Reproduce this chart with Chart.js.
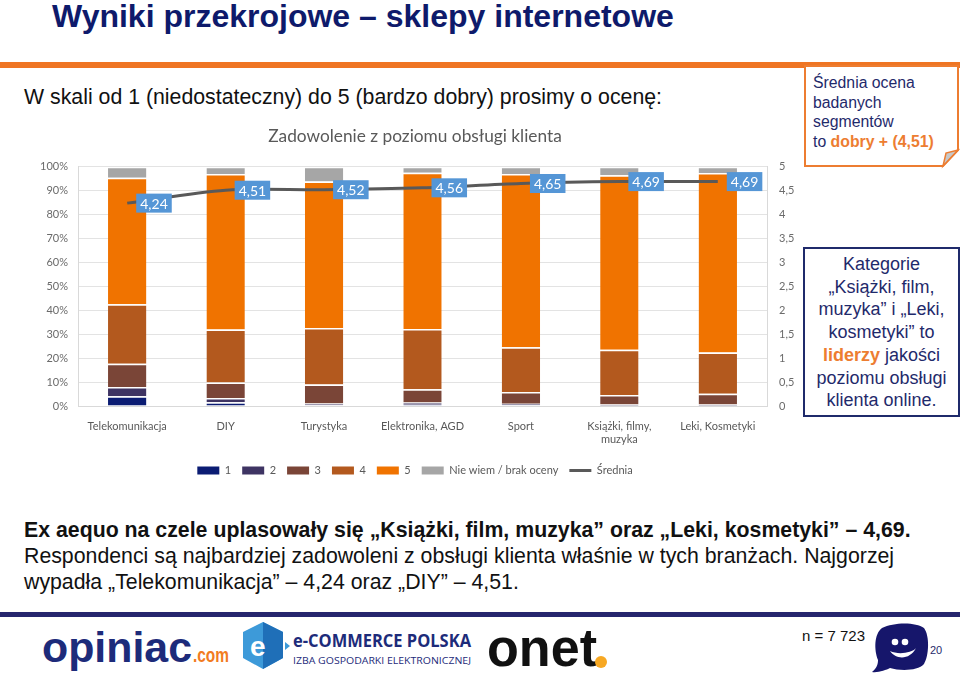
<!DOCTYPE html>
<html lang="pl">
<head>
<meta charset="utf-8">
<title>Wyniki przekrojowe – sklepy internetowe</title>
<script src="https://cdn.jsdelivr.net/npm/chart.js@4.4.1/dist/chart.umd.min.js"></script>
<style>
  html, body { margin: 0; padding: 0; }
  body {
    width: 960px; height: 673px; position: relative; overflow: hidden;
    background: #fff; font-family: "Liberation Sans", Arial, sans-serif;
  }
  .abs { position: absolute; }
  #title {
    left: 52px; top: -2px; font-size: 32px; font-weight: bold; color: #0e1a6b;
    line-height: 36px; white-space: nowrap;
  }
  #topRule { left: 0; top: 62px; width: 960px; height: 6px; background: #ef7523; }
  #subtitle { left: 24px; top: 85px; font-size: 21.3px; line-height: 24px; color: #111; white-space: nowrap; }
  #chartBox { left: 10px; top: 120px; width: 810px; height: 370px; }
  #note1 { left: 813px; top: 73px; font-size: 15.8px; line-height: 19.5px; color: #1f2a6b; white-space: nowrap; }
  #note1 b, #note2 b { color: #ed7d31; }
  #note2 {
    left: 803px; top: 247px; width: 157px; height: 170px; border: 2px solid #1f2a6b;
    font-size: 18px; line-height: 22.7px; color: #1f2a6b; text-align: center;
    box-sizing: border-box; padding-top: 4px; white-space: nowrap;
  }
  #summary { left: 24px; top: 517px; font-size: 21.3px; line-height: 26px; color: #111; white-space: nowrap; }
  #bottomRule { left: 0; top: 612px; width: 960px; height: 5px; background: #26266e; }
  #sample { left: 802px; top: 627px; font-size: 15px; color: #111; }
  #page { left: 930px; top: 644px; font-size: 11px; color: #1f2a6b; }
</style>
</head>
<body>
<div id="title" class="abs">Wyniki przekrojowe – sklepy internetowe</div>
<div id="topRule" class="abs"></div>
<div id="subtitle" class="abs">W skali od 1 (niedostateczny) do 5 (bardzo dobry) prosimy o ocenę:</div>

<svg class="abs" style="left:803px;top:64px" width="157" height="106">
  <path d="M2,2 H155 V86 L140,102 H2 Z" fill="#fff" stroke="#ed7d31" stroke-width="2"/>
  <path d="M140,102 L155,86 L143,89 Z" fill="#c8c8c8" stroke="#ed7d31" stroke-width="1.5"/>
</svg>
<div id="note1" class="abs">Średnia ocena<br>badanych<br>segmentów<br>to <b>dobry + (4,51)</b></div>

<div id="note2" class="abs">Kategorie<br>„Książki, film,<br>muzyka” i „Leki,<br>kosmetyki” to<br><b>liderzy</b> jakości<br>poziomu obsługi<br>klienta online.</div>

<div id="chartBox" class="abs"><canvas id="chart"></canvas></div>

<div id="summary" class="abs"><b>Ex aequo na czele uplasowały się „Książki, film, muzyka” oraz „Leki, kosmetyki” – 4,69.</b><br>Respondenci są najbardziej zadowoleni z obsługi klienta właśnie w tych branżach. Najgorzej<br>wypadła „Telekomunikacja” – 4,24 oraz „DIY” – 4,51.</div>

<div id="bottomRule" class="abs"></div>

<!-- logos -->
<svg class="abs" style="left:36px;top:620px" width="580" height="53">
  <text x="6" y="42" font-family="Liberation Sans, Arial" font-weight="bold" font-size="42" fill="#1d2b7a" textLength="150" lengthAdjust="spacingAndGlyphs">opiniac</text>
  <text x="157" y="42" font-family="Liberation Sans, Arial" font-weight="bold" font-size="21" fill="#f27b21" textLength="36" lengthAdjust="spacingAndGlyphs">.com</text>
  <polygon points="207,12 227,2 247,12 247,38 227,49 207,38" fill="#3d9ad9"/>
  <polygon points="227,2 247,12 247,38 227,49" fill="#1f6fb8"/>
  <text x="214" y="36" font-family="Liberation Sans, Arial" font-weight="bold" font-size="28" fill="#fff">e</text>
  <polygon points="249,22 254,26 249,30" fill="#3d9ad9"/>
  <text x="257" y="27" font-family="Open Sans, sans-serif" font-weight="bold" font-size="17" fill="#1d2b7a" textLength="178" lengthAdjust="spacingAndGlyphs">e-COMMERCE POLSKA</text>
  <text x="257" y="44" font-family="Open Sans, sans-serif" font-size="9.6" fill="#1d2b7a" textLength="178" lengthAdjust="spacingAndGlyphs">IZBA GOSPODARKI ELEKTRONICZNEJ</text>
  <text x="451" y="46" font-family="Liberation Sans, Arial" font-weight="bold" font-size="54" fill="#111" textLength="110" lengthAdjust="spacingAndGlyphs">onet</text>
  <circle cx="565" cy="42" r="6" fill="#f7a823"/>
</svg>

<div id="sample" class="abs">n = 7 723</div>
<svg class="abs" style="left:868px;top:620px" width="64" height="53">
  <path d="M14,8 C26,2 48,2 56,8 C62,16 61,36 56,44 C50,51 32,51 22,48 C18,50 10,53 4,52 C9,48 10,44 10,40 C6,30 6,14 14,8 Z" fill="#16166b"/>
  <circle cx="27" cy="22" r="3.3" fill="#fff"/>
  <circle cx="37" cy="22" r="3.3" fill="#fff"/>
  <path d="M22,31 C28,40 42,40 48,28 C44,33 30,35 22,31 Z" fill="#fff"/>
</svg>
<div id="page" class="abs">20</div>

<script>
// categories & values
const categories = [
  "Telekomunikacja",
  "DIY",
  "Turystyka",
  "Elektronika, AGD",
  "Sport",
  ["Książki, filmy,", "muzyka"],
  "Leki, Kosmetyki",
];

const score1 = [4.1, 1.6, 0.3, 0.5, 0.3, 0.2, 0.2];
const score2 = [3.8, 1.7, 0.7, 1.0, 0.6, 0.4, 0.4];
const score3 = [9.8, 6.5, 8.0, 5.5, 5.0, 4.0, 4.5];
const score4 = [24.8, 22.2, 23.6, 25.2, 18.7, 18.9, 17.3];
const score5 = [52.9, 65.0, 61.2, 65.3, 72.4, 73.0, 75.0];
const noAnswer = [4.6, 3.0, 6.2, 2.5, 3.0, 3.5, 2.6];
const average = [4.24, 4.51, 4.52, 4.56, 4.65, 4.69, 4.69];

const seriesLabels = ["1", "2", "3", "4", "5", "Nie wiem / brak oceny", "Średnia"];
const seriesColors = ["#0b1c73", "#3e3463", "#7a4537", "#b3591e", "#f07300", "#a6a6a6", "#595959"];

const chartFont = "Lato, 'Open Sans', sans-serif";
Chart.defaults.font.family = chartFont;
Chart.defaults.color = "#6b6b6b";

function comma(v, digits) {
  return (digits === undefined ? String(v) : v.toFixed(digits)).replace(".", ",");
}

// value boxes next to each point of the average line
const lineLabels = {
  id: "lineLabels",
  afterDatasetsDraw(chart) {
    const idx = chart.data.datasets.findIndex((d) => d.type === "line");
    const meta = chart.getDatasetMeta(idx);
    const ctx = chart.ctx;
    ctx.save();
    ctx.font = "14px " + chartFont;
    ctx.textBaseline = "middle";
    meta.data.forEach((pt, i) => {
      const text = comma(average[i], 2);
      const w = ctx.measureText(text).width + 8;
      const h = 19;
      const x = pt.x + 9;
      ctx.fillStyle = "#5596d6";
      ctx.fillRect(x, pt.y - h / 2, w, h);
      ctx.fillStyle = "#fff";
      ctx.fillText(text, x + 4, pt.y + 1);
    });
    ctx.restore();
  },
};

const barSets = [score1, score2, score3, score4, score5, noAnswer].map((data, i) => ({
  type: "bar",
  label: seriesLabels[i],
  data: data,
  backgroundColor: seriesColors[i],
  borderColor: "#ffffff",
  borderWidth: { top: 1.5, right: 0, bottom: 0, left: 0 },
  borderSkipped: false,
  yAxisID: "y",
  order: 1,
}));

const ctx = document.getElementById("chart").getContext("2d");
new Chart(ctx, {
  data: {
    labels: categories,
    datasets: [
      ...barSets,
      {
        type: "line",
        label: seriesLabels[6],
        data: average,
        borderColor: seriesColors[6],
        backgroundColor: seriesColors[6],
        borderWidth: 3,
        pointRadius: 0,
        tension: 0.3,
        yAxisID: "y1",
        order: 0,
      },
    ],
  },
  options: {
    responsive: true,
    maintainAspectRatio: false,
    animation: false,
    layout: { padding: { top: 0, bottom: 4, left: 0, right: 0 } },
    datasets: {
      bar: { categoryPercentage: 0.78, barPercentage: 0.5 },
    },
    plugins: {
      title: {
        display: true,
        text: "Zadowolenie z poziomu obsługi klienta",
        color: "#595959",
        font: { size: 17.3, weight: "normal" },
        padding: { top: 6, bottom: 20 },
      },
      legend: {
        position: "bottom",
        labels: {
          color: "#595959",
          font: { size: 11 },
          usePointStyle: true,
          pointStyleWidth: 22,
          boxHeight: 8,
          padding: 11,
          generateLabels(chart) {
            const items = Chart.defaults.plugins.legend.labels.generateLabels(chart);
            items.forEach((it) => {
              const isLine = chart.data.datasets[it.datasetIndex].type === "line";
              it.pointStyle = isLine ? "line" : "rect";
              if (!isLine) it.lineWidth = 0;
            });
            return items.sort((a, b) => a.datasetIndex - b.datasetIndex);
          },
        },
      },
      tooltip: { enabled: false },
    },
    scales: {
      x: {
        stacked: true,
        grid: { display: false },
        border: { display: true, color: "#d9d9d9" },
        ticks: { color: "#595959", font: { size: 11 }, maxRotation: 0, padding: 6 },
        afterFit(scale) { scale.height = 48; },
      },
      y: {
        stacked: true,
        position: "left",
        min: 0,
        max: 100,
        ticks: { stepSize: 10, callback: (v) => v + "%", font: { size: 11 }, padding: 10 },
        grid: { color: "#e3e3e3", drawTicks: false },
        border: { display: true, color: "#d9d9d9" },
        afterFit(scale) { scale.width = 68; },
      },
      y1: {
        position: "right",
        min: 0,
        max: 5,
        ticks: { stepSize: 0.5, callback: (v) => comma(v), font: { size: 11 }, padding: 12 },
        grid: { display: false, drawTicks: false },
        border: { display: true, color: "#d9d9d9" },
        afterFit(scale) { scale.width = 53; },
      },
    },
  },
  plugins: [lineLabels],
});
</script>
</body>
</html>
